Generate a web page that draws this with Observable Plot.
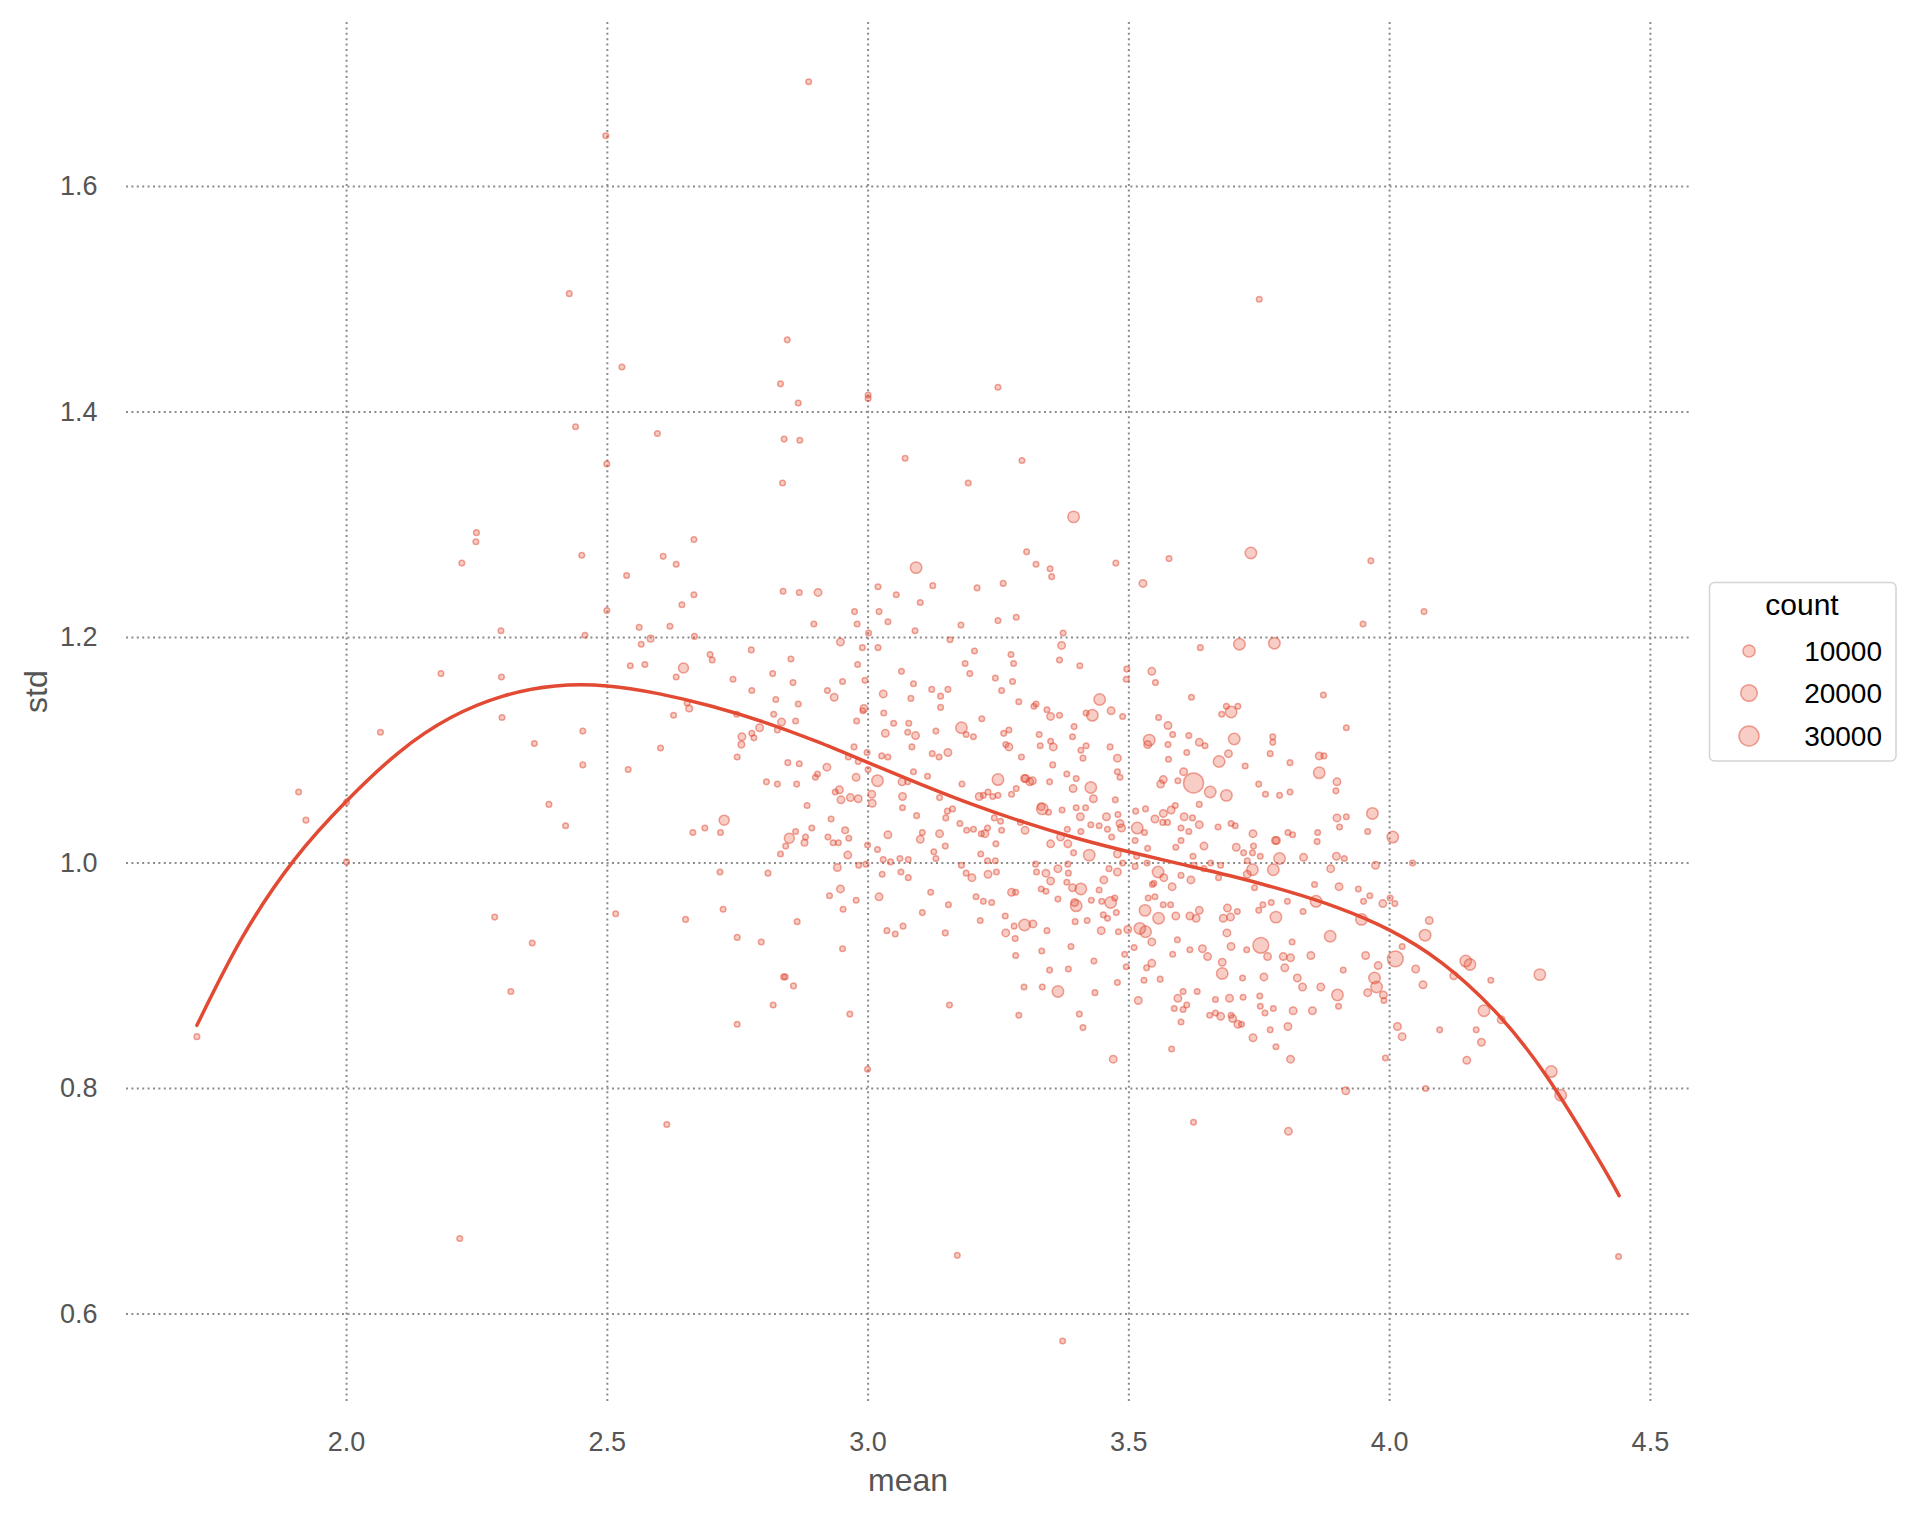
<!DOCTYPE html>
<html><head><meta charset="utf-8">
<script src="https://cdn.jsdelivr.net/npm/d3@7"></script>
<script src="https://cdn.jsdelivr.net/npm/@observablehq/plot@0.6"></script>
<style>
html,body{margin:0;padding:0;background:#fff;}
#wrap{position:relative;width:1905px;height:1516px;font-family:"Liberation Sans",Arial,sans-serif;}
#legend{position:absolute;left:1705px;top:578px;}
</style></head><body><div id="wrap"></div>
<script>
const xTicks = [2.0, 2.5, 3.0, 3.5, 4.0, 4.5];
const yTicks = [0.6, 0.8, 1.0, 1.2, 1.4, 1.6];
const legendCounts = [10000, 20000, 30000];

// fitted curve
const fitMean = [1.713,1.8,1.9,2.0,2.1,2.2,2.3,2.4,2.5,2.6,2.7,2.8,2.9,3.0,3.1,3.2,3.3,3.4,3.5,3.6,3.7,3.8,3.9,4.0,4.1,4.2,4.3,4.4,4.44];
const fitStd  = [0.856,0.934,1.003,1.055,1.098,1.129,1.148,1.157,1.157,1.150,1.139,1.125,1.108,1.089,1.070,1.052,1.036,1.022,1.010,0.999,0.988,0.9755,0.9605,0.9405,0.9115,0.8695,0.8115,0.7375,0.705];

// [mean, std, count]
const zoneLeft = [[1.713,0.846,500],[1.908,1.063,500],[1.922,1.038,500],[2.0,1.054,500],[2.0,1.001,500],[2.065,1.116,500],[2.181,1.168,500],[2.296,1.206,500],[2.297,1.165,500],[2.298,1.129,500],[2.36,1.106,500],[2.388,1.052,500],[2.284,0.952,500],[2.356,0.929,500],[2.315,0.886,500],[2.217,0.667,500]];
const zoneTop = [[2.886,1.693,500],[2.497,1.645,500],[3.75,1.5,500],[3.249,1.422,500],[3.0,1.415,500],[3.0,1.412,500],[3.071,1.359,500],[3.295,1.357,500],[3.192,1.337,500],[3.394,1.307,8500]];
const zoneUpperLeft = [[2.427,1.505,500],[2.528,1.44,500],[2.439,1.387,500],[2.596,1.381,500],[2.499,1.354,500],[2.845,1.464,500],[2.832,1.425,500],[2.866,1.408,500],[2.839,1.376,500],[2.869,1.375,500],[2.836,1.337,500],[2.249,1.293,500],[2.248,1.285,500],[2.221,1.266,500],[2.451,1.273,500],[2.666,1.287,500],[2.607,1.272,500],[2.632,1.265,500],[2.537,1.255,500],[2.666,1.238,500],[2.837,1.241,500],[2.868,1.240,500],[2.904,1.240,2500],[2.643,1.229,500],[2.499,1.224,500],[2.457,1.202,500],[2.561,1.209,500],[2.620,1.210,500],[2.667,1.201,500],[2.583,1.199,1500],[2.565,1.194,500],[2.896,1.212,500],[2.947,1.196,2500],[2.776,1.189,500],[2.697,1.185,500],[2.701,1.180,500],[2.646,1.173,6000],[2.544,1.175,500],[2.572,1.176,500],[2.632,1.165,500],[2.852,1.181,500],[2.817,1.168,500],[2.856,1.160,500],[2.741,1.163,500],[2.777,1.153,500],[2.951,1.161,500],[2.922,1.153,500]];
const zoneLeftMid = [[2.42,1.033,500],[2.453,1.117,500],[2.453,1.087,500],[2.54,1.083,500],[2.602,1.102,500],[2.627,1.131,500],[2.653,1.142,500],[2.657,1.137,1500],[2.748,1.132,500],[2.758,1.112,2500],[2.757,1.105,1500],[2.777,1.115,500],[2.781,1.111,500],[2.792,1.12,2500],[2.749,1.094,500],[2.823,1.145,500],[2.819,1.132,500],[2.834,1.125,2500],[2.826,1.118,500],[2.866,1.141,500],[2.861,1.126,500],[2.935,1.147,2500],[2.846,1.089,500],[2.868,1.088,500],[2.921,1.085,2500],[2.903,1.079,500],[2.899,1.076,500],[2.805,1.072,500],[2.826,1.07,500],[2.863,1.07,500],[2.945,1.065,2500],[2.937,1.063,500],[2.948,1.056,2500],[2.966,1.058,2500],[2.962,1.094,500],[2.883,1.051,500],[2.929,1.039,500],[2.724,1.038,6000],[2.664,1.027,500],[2.687,1.031,500],[2.717,1.027,500],[2.892,1.031,500],[2.861,1.028,500],[2.849,1.022,6000],[2.88,1.023,500],[2.878,1.018,1500],[2.842,1.015,500],[2.832,1.008,500],[2.923,1.023,500],[2.933,1.018,500],[2.943,1.018,500],[2.956,1.029,1500],[2.963,1.022,500],[2.961,1.007,2500],[2.941,0.996,2500],[2.947,0.977,2500],[2.926,0.971,500],[2.952,0.959,500],[2.716,0.992,500],[2.808,0.991,500],[2.516,0.955,500],[2.65,0.95,500],[2.722,0.959,500],[2.864,0.948,500],[2.749,0.934,500],[2.795,0.93,500],[2.951,0.924,500],[2.838,0.899,500],[2.841,0.899,500],[2.857,0.891,500],[2.818,0.874,500],[2.965,0.866,500],[2.749,0.857,500],[2.614,0.768,500]];
const zoneCenterTop = [[3.304,1.276,500],[3.734,1.275,8500],[3.092,1.262,8500],[3.019,1.245,500],[3.054,1.238,500],[3.124,1.246,500],[3.209,1.244,500],[3.259,1.248,500],[3.322,1.265,500],[3.349,1.261,500],[3.352,1.254,500],[3.475,1.266,500],[3.577,1.27,500],[3.527,1.248,2500],[2.974,1.223,500],[3.021,1.223,500],[2.979,1.212,500],[3.038,1.214,500],[3.1,1.231,500],[3.09,1.206,500],[3.178,1.211,500],[3.249,1.215,500],[3.284,1.218,500],[3.374,1.204,500],[3.001,1.204,500],[3.019,1.191,500],[2.989,1.191,500],[2.98,1.176,500],[3.157,1.198,500],[3.204,1.188,500],[3.186,1.177,500],[3.195,1.168,500],[3.274,1.185,500],[3.279,1.177,500],[3.371,1.193,2500],[3.367,1.18,500],[3.406,1.175,500],[3.496,1.172,500],[3.495,1.163,500],[3.712,1.194,8500],[3.779,1.195,8500],[3.637,1.191,500],[3.544,1.17,2500],[3.551,1.16,500],[2.994,1.162,500],[3.064,1.17,500],[3.087,1.159,500],[3.122,1.154,500],[3.153,1.154,500],[3.139,1.148,500],[3.082,1.146,500],[3.029,1.15,2500],[3.244,1.164,500],[3.256,1.153,500],[3.277,1.161,500],[3.289,1.143,500],[3.444,1.145,8500],[3.62,1.147,500],[3.873,1.149,500],[2.992,1.137,2500],[2.99,1.135,500],[3.03,1.133,500],[3.139,1.138,500],[3.318,1.139,500],[3.322,1.141,500],[3.343,1.136,500],[3.35,1.13,2500],[3.367,1.131,500],[3.418,1.133,500],[3.43,1.131,8500],[3.466,1.135,2500],[3.488,1.13,500],[3.696,1.134,8500],[3.687,1.139,500],[3.678,1.132,500],[3.709,1.139,500]];
const zoneCenterUpper = [[2.978,1.126,500],[3.049,1.124,500],[3.033,1.115,2500],[3.078,1.124,500],[3.091,1.113,2500],[3.076,1.116,500],[3.13,1.117,500],[3.084,1.103,500],[3.179,1.12,8500],[3.188,1.114,500],[3.202,1.112,500],[3.218,1.128,500],[3.26,1.115,500],[3.27,1.118,500],[3.27,1.103,2500],[3.264,1.105,500],[3.328,1.114,500],[3.33,1.104,500],[3.35,1.108,500],[3.355,1.103,2500],[3.294,1.094,500],[3.395,1.121,500],[3.392,1.112,500],[3.418,1.104,500],[3.408,1.1,500],[3.412,1.093,500],[3.464,1.103,500],[3.557,1.129,500],[3.575,1.122,2500],[3.584,1.114,500],[3.539,1.109,8500],[3.536,1.105,2500],[3.575,1.105,500],[3.615,1.113,500],[3.635,1.107,2500],[3.646,1.104,500],[3.702,1.11,8500],[3.776,1.112,500],[3.776,1.107,500],[3.771,1.097,500],[3.723,1.086,500],[3.691,1.097,2500],[3.673,1.09,8500],[3.611,1.098,500],[3.576,1.092,500],[3.865,1.095,2500],[3.874,1.095,500],[3.809,1.089,500],[3.917,1.12,500],[2.973,1.103,500],[2.998,1.098,500],[3.026,1.095,500],[3.038,1.094,500],[3.123,1.097,500],[3.136,1.094,500],[3.153,1.098,2500],[2.981,1.09,500],[3.0,1.083,500],[2.977,1.076,2500],[3.018,1.073,8500],[3.087,1.081,500],[3.065,1.072,2500],[3.076,1.072,500],[3.114,1.077,500],[3.18,1.07,500],[3.249,1.074,8500],[3.3,1.075,2500],[3.302,1.075,2500],[3.31,1.072,2500],[3.315,1.073,2500],[3.348,1.072,500],[3.381,1.079,500],[3.399,1.075,500],[3.393,1.066,2500],[3.354,1.087,500],[3.427,1.067,8500],[3.478,1.093,2500],[3.478,1.081,500],[3.483,1.076,500],[3.474,1.056,500],[3.432,1.057,2500],[3.605,1.081,2500],[3.566,1.074,2500],[3.561,1.07,2500],[3.594,1.073,500],[3.624,1.071,30000],[3.656,1.063,8500],[3.687,1.06,8500],[3.749,1.07,500],[3.762,1.061,500],[3.789,1.06,500],[3.809,1.063,500],[3.865,1.08,8500],[3.899,1.072,2500],[3.897,1.064,500]];
const zoneCenterMid = [[2.981,1.057,2500],[3.007,1.061,2500],[3.008,1.053,2500],[3.066,1.059,2500],[3.066,1.049,500],[3.137,1.058,500],[3.093,1.042,500],[3.162,1.048,500],[3.152,1.046,500],[3.149,1.04,500],[3.213,1.059,2500],[3.221,1.06,500],[3.23,1.063,500],[3.239,1.059,500],[3.249,1.06,500],[3.275,1.061,500],[3.284,1.066,500],[3.334,1.048,8500],[3.332,1.05,2500],[3.346,1.045,500],[3.372,1.047,500],[3.399,1.049,500],[3.417,1.049,500],[3.407,1.041,2500],[3.457,1.041,2500],[3.479,1.043,500],[3.513,1.046,500],[3.532,1.048,500],[3.55,1.039,2500],[3.566,1.044,2500],[3.581,1.047,2500],[3.589,1.051,500],[3.606,1.041,2500],[3.622,1.04,500],[3.635,1.034,2500],[3.635,1.052,500],[3.671,1.032,500],[3.696,1.035,500],[3.704,1.033,500],[3.738,1.026,2500],[3.783,1.02,2500],[3.805,1.027,500],[3.814,1.025,500],[3.862,1.027,500],[3.899,1.04,2500],[3.917,1.041,500],[3.904,1.032,500],[2.999,1.016,500],[3.018,1.012,500],[3.038,1.025,2500],[3.1,1.021,2500],[3.104,1.027,500],[3.137,1.026,2500],[3.148,1.015,500],[3.176,1.035,500],[3.189,1.029,500],[3.202,1.03,500],[3.217,1.026,500],[3.224,1.026,2500],[3.229,1.031,500],[3.242,1.04,500],[3.254,1.037,500],[3.256,1.029,500],[3.245,1.017,500],[3.292,1.036,500],[3.301,1.029,2500],[3.35,1.017,2500],[3.369,1.023,2500],[3.382,1.03,500],[3.383,1.017,2500],[3.394,1.009,500],[3.408,1.028,500],[3.427,1.034,500],[3.424,1.007,8500],[3.443,1.033,500],[3.459,1.03,500],[3.467,1.023,500],[3.483,1.035,2500],[3.486,1.031,2500],[3.478,1.008,2500],[3.516,1.031,8500],[3.53,1.027,500],[3.512,1.02,500],[3.536,1.013,500],[3.565,1.036,500],[3.574,1.036,500],[3.6,1.031,500],[3.615,1.028,500],[3.59,1.014,500],[3.6,1.02,500],[3.644,1.015,2500],[3.706,1.014,2500],[3.72,1.009,500],[3.737,1.009,500],[3.739,1.015,500],[3.752,1.006,500],[3.781,1.02,2500],[3.789,1.004,8500],[3.835,1.005,2500],[3.861,1.019,500],[3.898,1.006,2500],[3.887,0.995,2500],[3.913,1.004,500]];
const zoneCenterLow = [[2.982,0.998,500],[2.996,0.999,500],[3.029,1.003,500],[3.061,1.004,500],[3.077,1.003,500],[3.043,1.001,500],[3.027,0.99,500],[3.063,0.992,500],[3.077,0.987,500],[3.13,1.004,500],[3.126,1.01,500],[3.179,0.998,500],[3.188,0.991,500],[3.199,0.987,2500],[3.216,1.008,500],[3.229,1.002,500],[3.244,1.002,500],[3.246,0.992,500],[3.23,0.99,2500],[3.321,0.999,500],[3.323,0.992,500],[3.341,0.991,2500],[3.35,0.984,2500],[3.364,0.995,2500],[3.383,0.999,500],[3.384,0.991,500],[3.381,0.983,500],[3.452,0.985,2500],[3.478,0.992,2500],[3.462,0.995,500],[3.488,1.0,500],[3.512,0.997,500],[3.515,1.006,500],[3.535,1.0,500],[3.556,0.992,8500],[3.567,0.987,2500],[3.548,0.982,500],[3.545,0.981,500],[3.583,0.979,2500],[3.6,0.989,500],[3.619,0.985,2500],[3.623,1.006,500],[3.625,0.998,500],[3.644,0.995,500],[3.657,1.0,500],[3.676,0.998,500],[3.672,0.987,500],[3.727,1.002,500],[3.737,0.994,8500],[3.727,0.99,2500],[3.777,0.994,8500],[3.741,0.978,500],[3.856,0.981,500],[3.903,0.979,2500],[2.977,0.967,500],[3.021,0.97,2500],[3.12,0.974,500],[3.104,0.956,500],[3.154,0.963,500],[3.207,0.97,500],[3.221,0.966,500],[3.237,0.965,500],[3.275,0.974,2500],[3.283,0.974,500],[3.332,0.977,500],[3.341,0.975,500],[3.364,0.968,500],[3.392,0.978,2500],[3.408,0.977,8500],[3.396,0.965,2500],[3.399,0.962,8500],[3.428,0.967,500],[3.443,0.976,500],[3.448,0.966,500],[3.465,0.965,8500],[3.473,0.969,500],[3.476,0.956,500],[3.451,0.954,500],[3.531,0.958,8500],[3.557,0.951,8500],[3.537,0.969,500],[3.55,0.97,500],[3.566,0.963,500],[3.58,0.963,500],[3.617,0.953,2500],[3.629,0.951,2500],[3.635,0.958,2500],[3.59,0.953,2500],[3.681,0.951,2500],[3.689,0.96,2500],[3.695,0.952,2500],[3.708,0.957,500],[3.688,0.938,2500],[3.749,0.958,500],[3.757,0.963,500],[3.773,0.965,500],[3.782,0.952,8500],[3.804,0.966,500],[3.834,0.957,500],[3.859,0.966,8500],[3.886,0.935,8500]];
const zoneCenterBottom = [[3.036,0.94,500],[3.052,0.937,500],[3.067,0.944,500],[3.148,0.938,500],[3.215,0.949,500],[3.263,0.953,500],[3.264,0.938,2500],[3.28,0.944,500],[3.3,0.945,8500],[3.316,0.946,2500],[3.343,0.94,500],[3.282,0.933,500],[3.283,0.918,500],[3.333,0.922,500],[3.348,0.905,500],[3.334,0.89,500],[3.299,0.89,500],[3.364,0.886,8500],[3.384,0.906,500],[3.389,0.926,500],[3.397,0.948,500],[3.42,0.949,500],[3.433,0.913,500],[3.435,0.885,500],[3.447,0.94,2500],[3.459,0.951,500],[3.48,0.939,500],[3.498,0.941,2500],[3.478,0.894,500],[3.492,0.919,500],[3.495,0.908,500],[3.51,0.925,500],[3.521,0.942,8500],[3.532,0.939,8500],[3.544,0.93,2500],[3.544,0.911,2500],[3.534,0.907,500],[3.529,0.896,500],[3.56,0.897,500],[3.584,0.919,500],[3.593,0.932,500],[3.617,0.923,500],[3.641,0.924,2500],[3.651,0.917,2500],[3.604,0.886,500],[3.631,0.886,500],[3.679,0.912,2500],[3.679,0.902,8500],[3.696,0.926,2500],[3.718,0.898,500],[3.726,0.923,500],[3.753,0.927,18000],[3.759,0.899,2500],[3.766,0.917,2500],[3.796,0.917,2500],[3.799,0.907,2500],[3.81,0.916,2500],[3.813,0.93,500],[3.823,0.898,2500],[3.833,0.89,2500],[3.849,0.918,2500],[3.868,0.89,2500],[3.9,0.883,8500],[3.911,0.905,500]];
const zoneLow = [[3.156,0.874,500],[3.289,0.865,500],[3.405,0.866,500],[3.412,0.854,500],[3.47,0.826,2500],[2.999,0.817,500],[3.518,0.878,2500],[3.594,0.88,2500],[3.587,0.871,500],[3.604,0.87,500],[3.611,0.874,500],[3.666,0.879,500],[3.693,0.88,2500],[3.719,0.881,500],[3.751,0.882,500],[3.752,0.873,500],[3.777,0.871,500],[3.761,0.867,500],[3.815,0.869,2500],[3.852,0.869,2500],[3.902,0.873,500],[3.655,0.865,500],[3.666,0.867,500],[3.676,0.864,2500],[3.696,0.865,500],[3.699,0.862,2500],[3.709,0.857,2500],[3.716,0.857,500],[3.6,0.859,500],[3.738,0.845,2500],[3.771,0.852,500],[3.782,0.837,500],[3.805,0.855,2500],[3.81,0.826,2500],[3.582,0.835,500],[3.624,0.77,500],[3.806,0.762,2500],[3.916,0.798,2500],[3.171,0.652,500],[3.373,0.576,500]];
const zoneRightUpper = [[3.964,1.268,500],[3.949,1.212,500],[4.066,1.223,500],[3.967,1.044,8500],[3.958,1.028,500],[4.006,1.023,8500]];
const zoneRight = [[3.973,0.998,2500],[4.044,1.0,500],[3.94,0.977,500],[3.962,0.971,500],[3.95,0.966,500],[3.987,0.964,2500],[4.001,0.969,500],[4.01,0.964,500],[3.946,0.95,8500],[3.954,0.918,2500],[4.011,0.915,18000],[3.978,0.909,2500],[3.971,0.898,8500],[3.975,0.89,8500],[3.958,0.885,2500],[3.988,0.883,2500],[3.989,0.878,500],[4.024,0.926,500],[4.068,0.936,8500],[4.076,0.949,2500],[4.05,0.906,2500],[4.064,0.892,2500],[4.015,0.855,2500],[4.024,0.846,2500],[3.992,0.827,500],[4.123,0.9,2500],[4.096,0.852,500],[4.146,0.913,8500],[4.154,0.91,8500],[4.194,0.896,500],[4.181,0.869,8500],[4.214,0.861,2500],[4.166,0.852,500],[4.176,0.841,2500],[4.148,0.825,2500],[4.288,0.901,8500],[4.069,0.8,500],[4.31,0.815,8500],[4.328,0.794,8500],[4.439,0.651,500]];

const points = [].concat(zoneLeft, zoneTop, zoneUpperLeft, zoneLeftMid, zoneCenterTop, zoneCenterUpper,
  zoneCenterMid, zoneCenterLow, zoneCenterBottom, zoneLow, zoneRightUpper, zoneRight)
  .map(([mean, std, count]) => ({mean, std, count}));
const fit = fitMean.map((m, i) => ({mean: m, std: fitStd[i]}));

const RED = "#E24A33";
const FONT = '"Liberation Sans", Arial, Helvetica, sans-serif';
const rOffset = 2000;
const gridStyle = {stroke: "#8c8c8c", strokeOpacity: 1, strokeWidth: 2, strokeDasharray: "2,3.4"};
const dotStyle = {fill: RED, fillOpacity: 0.28, stroke: RED, strokeOpacity: 0.5, strokeWidth: 1.5};

const plot = Plot.plot({
  width: 1905, height: 1516,
  marginLeft: 126, marginRight: 216, marginTop: 22, marginBottom: 113,
  style: {fontFamily: FONT, fontSize: "27px", color: "#555", background: "#fff", overflow: "visible"},
  x: {domain: [1.578, 4.575]},
  y: {domain: [0.5206, 1.7455]},
  r: {type: "sqrt", domain: [0, 32000], range: [0, 10]},
  marks: [
    Plot.gridX(xTicks, gridStyle),
    Plot.gridY(yTicks, gridStyle),
    Plot.axisX(xTicks, {tickSize: 0, tickPadding: 28, tickFormat: d3.format(".1f"), label: null, fontSize: 27, fill: "#555"}),
    Plot.axisY(yTicks, {tickSize: 0, tickPadding: 29, tickFormat: d3.format(".1f"), label: null, fontSize: 27, fill: "#555"}),
    Plot.dot(points, {x: "mean", y: "std", r: d => d.count + rOffset, ...dotStyle}),
    Plot.line(fit, {x: "mean", y: "std", stroke: RED, strokeWidth: 3.5, curve: "natural"}),
    Plot.text(["mean"], {text: d => d, frameAnchor: "bottom", lineAnchor: "middle", dy: 77, fontSize: 32, fill: "#555"}),
    Plot.text(["std"], {text: d => d, frameAnchor: "left", dx: -90, rotate: -90, fontSize: 32, fill: "#555"})
  ]
});
document.getElementById("wrap").appendChild(plot);

// legend
const rScale = plot.scale("r");
const rad = v => (rScale && typeof rScale.apply === "function") ? rScale.apply(v + rOffset) : 10 * Math.sqrt((v + rOffset) / 32000);
const lg = d3.select("#wrap").append("svg").attr("id", "legend")
  .attr("width", 200).attr("height", 190).style("font-family", FONT);
lg.append("rect").attr("x", 4.5).attr("y", 4.5).attr("width", 186.5).attr("height", 178.5)
  .attr("rx", 5).attr("fill", "#fff").attr("stroke", "#d4d4d4").attr("stroke-width", 1.5);
lg.append("text").attr("x", 97).attr("y", 37).attr("text-anchor", "middle")
  .attr("font-size", 30).attr("fill", "#000").text("count");
const rows = [73, 115, 158];
legendCounts.forEach((c, i) => {
  lg.append("circle").attr("cx", 44).attr("cy", rows[i]).attr("r", rad(c))
    .attr("fill", RED).attr("fill-opacity", dotStyle.fillOpacity).attr("stroke", RED)
    .attr("stroke-opacity", dotStyle.strokeOpacity).attr("stroke-width", dotStyle.strokeWidth);
  lg.append("text").attr("x", 177).attr("y", rows[i]).attr("dy", "0.35em").attr("text-anchor", "end")
    .attr("font-size", 28).attr("fill", "#000").text(String(c));
});
</script>
</body></html>
